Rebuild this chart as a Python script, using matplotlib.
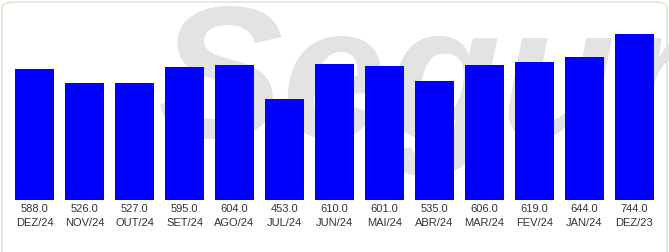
import matplotlib
matplotlib.use("Agg")
import matplotlib.pyplot as plt
from matplotlib.patches import FancyBboxPatch

months = ["DEZ/24", "NOV/24", "OUT/24", "SET/24", "AGO/24", "JUL/24", "JUN/24",
          "MAI/24", "ABR/24", "MAR/24", "FEV/24", "JAN/24", "DEZ/23"]
values = [588.0, 526.0, 527.0, 595.0, 604.0, 453.0, 610.0,
          601.0, 535.0, 606.0, 619.0, 644.0, 744.0]

W, H = 669, 252
fig = plt.figure(figsize=(W / 100, H / 100), dpi=100)
fig.patch.set_facecolor("white")

# decorative frame
frame = FancyBboxPatch((2 / W, -20 / H), (W - 4) / W, (H + 18) / H,
                       boxstyle="round,pad=0,rounding_size=0.02",
                       transform=fig.transFigure, facecolor="none",
                       edgecolor="#dfe9d2", linewidth=1.2, zorder=-2)
fig.patches.append(frame)

# watermark
fig.text(158 / W, 1 - 137 / H, "Segur", fontsize=135, fontweight="bold",
         fontstyle="italic", family="Liberation Sans", color="#e3e3e3",
         ha="left", va="baseline", zorder=-1)

ax = fig.add_axes([9.5 / W, 52 / H, 650 / W, 180 / H])
ax.set_zorder(1)
ax.patch.set_alpha(0)
ax.bar(range(len(values)), values, width=0.78, color="#0000ff", zorder=2)
ax.set_xlim(-0.5, len(values) - 0.5)
ax.set_ylim(0, 180 / 0.2228)
ax.set_xticks(range(len(values)))
ax.set_xticklabels([f"{v:.1f}\n{m}" for v, m in zip(values, months)],
                   fontsize=8, family="Liberation Sans", color="#333333",
                   linespacing=1.45)
ax.tick_params(axis="x", length=0, pad=3)
ax.set_yticks([])
for s in ax.spines.values():
    s.set_visible(False)

fig.savefig("out.png", dpi=100, facecolor=fig.get_facecolor())
